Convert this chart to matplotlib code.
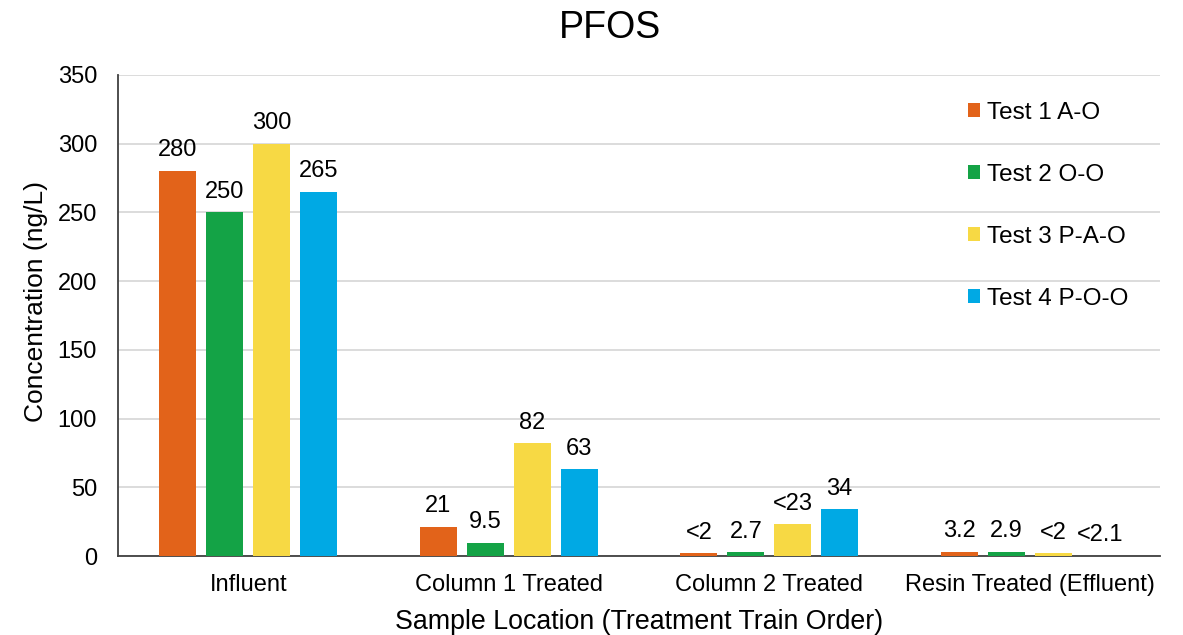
import numpy as np
import matplotlib.pyplot as plt

plt.rcParams['font.family'] = ['Liberation Sans', 'DejaVu Sans']

locations = ['Influent', 'Column 1 Treated', 'Column 2 Treated', 'Resin Treated (Effluent)']
tests = ['Test 1 A-O', 'Test 2 O-O', 'Test 3 P-A-O', 'Test 4 P-O-O']
colors = ['#E2631A', '#14A346', '#F7D944', '#00A9E4']

test1 = [280, 21, 2, 3.2]
test2 = [250, 9.5, 2.7, 2.9]
test3 = [300, 82, 23, 2]
test4 = [265, 63, 34, 0]

labels1 = ['280', '21', '<2', '3.2']
labels2 = ['250', '9.5', '2.7', '2.9']
labels3 = ['300', '82', '<23', '<2']
labels4 = ['265', '63', '34', '<2.1']

series = [test1, test2, test3, test4]
series_labels = [labels1, labels2, labels3, labels4]

fig = plt.figure(figsize=(11.83, 6.35), dpi=100)
ax = fig.add_axes([0.0997, 0.1244, 0.881, 0.7575])

x = np.arange(len(locations)) + 0.5
step = 0.18
width = 0.142

for i, (vals, labs) in enumerate(zip(series, series_labels)):
    pos = x + (i - 1.5) * step
    ax.bar(pos, vals, width, color=colors[i], label=tests[i], zorder=3)
    for p, v, t in zip(pos, vals, labs):
        ax.annotate(t, (p, v), xytext=(0, 7), textcoords='offset points',
                    ha='center', va='bottom', fontsize=17)

ax.set_xlim(0, 4)
ax.set_ylim(0, 350)
ax.set_yticks(range(0, 351, 50))
ax.set_xticks(x)
ax.set_xticklabels(locations)
ax.tick_params(axis='y', length=0, labelsize=17, pad=15)
ax.tick_params(axis='x', length=0, labelsize=17, pad=13)
ax.grid(axis='y', color='#d9d9d9', linewidth=1.3, zorder=0)
ax.spines['top'].set_visible(False)
ax.spines['right'].set_visible(False)
ax.spines['left'].set_color('#404040')
ax.spines['bottom'].set_color('#404040')
ax.spines['left'].set_linewidth(1.3)
ax.spines['bottom'].set_linewidth(1.3)

ax.set_xlabel('Sample Location (Treatment Train Order)', fontsize=19.3, labelpad=9)
ax.set_ylabel('Concentration (ng/L)', fontsize=19, labelpad=10)
ax.yaxis.set_label_coords(-0.0675, 0.53)
fig.suptitle('PFOS', fontsize=27, x=0.516, y=0.985)

fig.legend(loc='upper left', bbox_to_anchor=(0.818, 0.84), frameon=False,
           fontsize=17.5, handlelength=0.5, handleheight=0.5, handletextpad=0.3,
           labelspacing=1.65, borderpad=0, borderaxespad=0)

fig.savefig('out.png', dpi=100)
